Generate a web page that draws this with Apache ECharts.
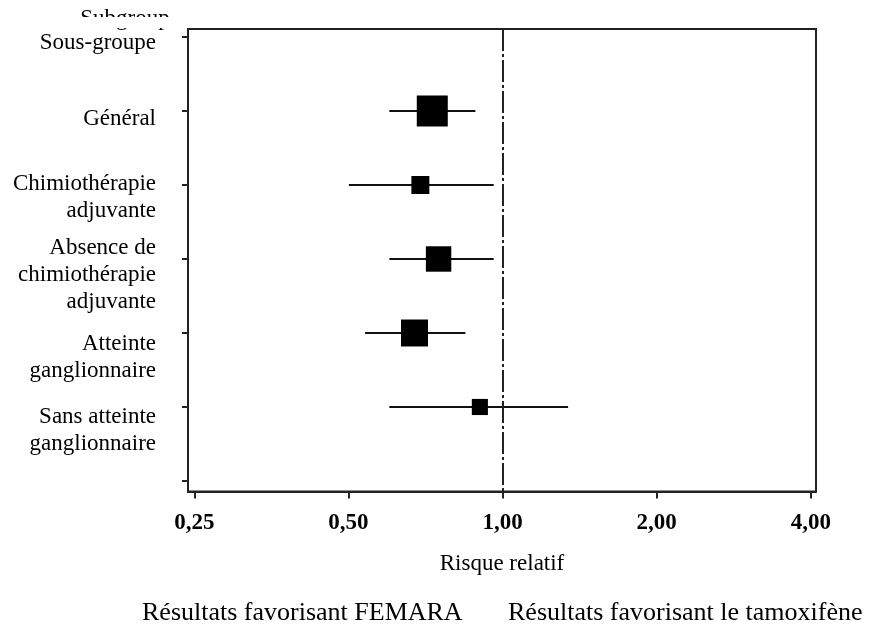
<!DOCTYPE html>
<html><head><meta charset="utf-8">
<script src="https://cdn.jsdelivr.net/npm/echarts@6/dist/echarts.min.js"></script>
<style>html,body{margin:0;padding:0;background:#fff}#c{width:871px;height:628px}</style>
</head><body><div id="c"></div>
<script>
// ---- data ----
const categories = ['Sous-groupe', 'Général', 'Chimiothérapie\nadjuvante',
  'Absence de\nchimiothérapie\nadjuvante', 'Atteinte\nganglionnaire',
  'Sans atteinte\nganglionnaire', ''];
const rowIndex = [1, 2, 3, 4, 5];
const riskEstimate = [0.729, 0.691, 0.750, 0.673, 0.903];
const ciLower = [0.601, 0.501, 0.601, 0.539, 0.601];
const ciUpper = [0.885, 0.961, 0.961, 0.846, 1.343];
const relativeWeight = [1.0, 0.58, 0.82, 0.87, 0.52];
const xTickValues = [0.25, 0.5, 1, 2, 4];
const xTickLabels = ['0,25', '0,50', '1,00', '2,00', '4,00'];
const referenceValue = 1;
const axisTitle = 'Risque relatif';
const favourLeft = 'Résultats favorisant FEMARA';
const favourRight = 'Résultats favorisant le tamoxifène';
const cutHeader = 'Subgroup';

// ---- layout / style ----
const FONT = '"Liberation Serif", "Times New Roman", serif';
const X_MIN = 0.243, X_MAX = 4.095;
const Y_MIN = -0.108, Y_MAX = 6.142;
const MAX_BOX = 31;
const ROW_PX = 74;
const labelShiftPx = [6, 8, 12, 16, 24, 23, 0];
const lg = Math.log2;

const rows = rowIndex.map((r, i) => [lg(ciLower[i]), lg(ciUpper[i]), lg(riskEstimate[i]), r, relativeWeight[i]]);

const chart = echarts.init(document.getElementById('c'), null, {renderer: 'canvas'});
chart.setOption({
  animation: false,
  backgroundColor: '#fff',
  grid: {left: 188, right: 55, top: 29, bottom: 136.5, show: true, borderColor: '#222', borderWidth: 2,
         outerBoundsMode: 'none', containLabel: false},
  xAxis: {
    type: 'value', min: lg(X_MIN), max: lg(X_MAX),
    name: axisTitle, nameLocation: 'middle', nameGap: 61,
    nameTextStyle: {fontFamily: FONT, fontSize: 23, color: '#000'},
    axisLine: {show: true, onZero: false, lineStyle: {color: '#222', width: 2}},
    axisTick: {show: true, length: 7, lineStyle: {color: '#222', width: 2}, customValues: xTickValues.map(lg)},
    axisLabel: {customValues: xTickValues.map(lg), margin: 20, fontFamily: FONT, fontSize: 23, fontWeight: 'bold', color: '#000',
      formatter: v => { let b = 0; xTickValues.forEach((t, i) => { if (Math.abs(lg(t) - v) < Math.abs(lg(xTickValues[b]) - v)) b = i; }); return xTickLabels[b]; }},
    splitLine: {show: false}
  },
  yAxis: {
    type: 'value', inverse: true, min: Y_MIN, max: Y_MAX,
    axisLine: {show: true, onZero: false, lineStyle: {color: '#222', width: 2}},
    axisTick: {show: true, length: 6, lineStyle: {color: '#222', width: 2}, customValues: categories.map((c, i) => i)},
    axisLabel: {customValues: categories.map((c, i) => i + labelShiftPx[i] / ROW_PX), margin: 32,
      fontFamily: FONT, fontSize: 23, lineHeight: 27, color: '#000', align: 'right',
      showMinLabel: true, showMaxLabel: true,
      formatter: v => categories[Math.round(v)]},
    splitLine: {show: false}
  },
  series: [{
    type: 'custom',
    data: rows,
    encode: {x: [0, 1, 2], y: 3},
    renderItem: function (params, api) {
      const y = api.value(3);
      const p1 = api.coord([api.value(0), y]);
      const p2 = api.coord([api.value(1), y]);
      const pc = api.coord([api.value(2), y]);
      const s = api.value(4) * MAX_BOX;
      return {type: 'group', children: [
        {type: 'line', shape: {x1: p1[0], y1: p1[1], x2: p2[0], y2: p2[1]}, style: {stroke: '#111', lineWidth: 2}},
        {type: 'rect', shape: {x: pc[0] - s / 2, y: pc[1] - s / 2, width: s, height: s}, style: {fill: '#000'}}
      ]};
    },
    markLine: {
      silent: true, symbol: ['none', 'none'], label: {show: false},
      lineStyle: {color: '#222', width: 2, type: [22, 3, 3, 3]},
      data: [{xAxis: lg(referenceValue)}]
    }
  }],
  graphic: [
    {type: 'text', z: 99, x: 125, y: 19, style: {text: cutHeader, font: '23px ' + FONT, fill: '#000', align: 'center', verticalAlign: 'middle'}},
    {type: 'rect', z: 100, shape: {x: 55, y: 17, width: 130, height: 11}, style: {fill: '#fff'}},
    {type: 'text', x: 142, y: 613, style: {text: favourLeft, font: '26px ' + FONT, fill: '#000', verticalAlign: 'middle'}},
    {type: 'text', x: 508, y: 613, style: {text: favourRight, font: '26px ' + FONT, fill: '#000', verticalAlign: 'middle'}}
  ]
});
</script></body></html>
